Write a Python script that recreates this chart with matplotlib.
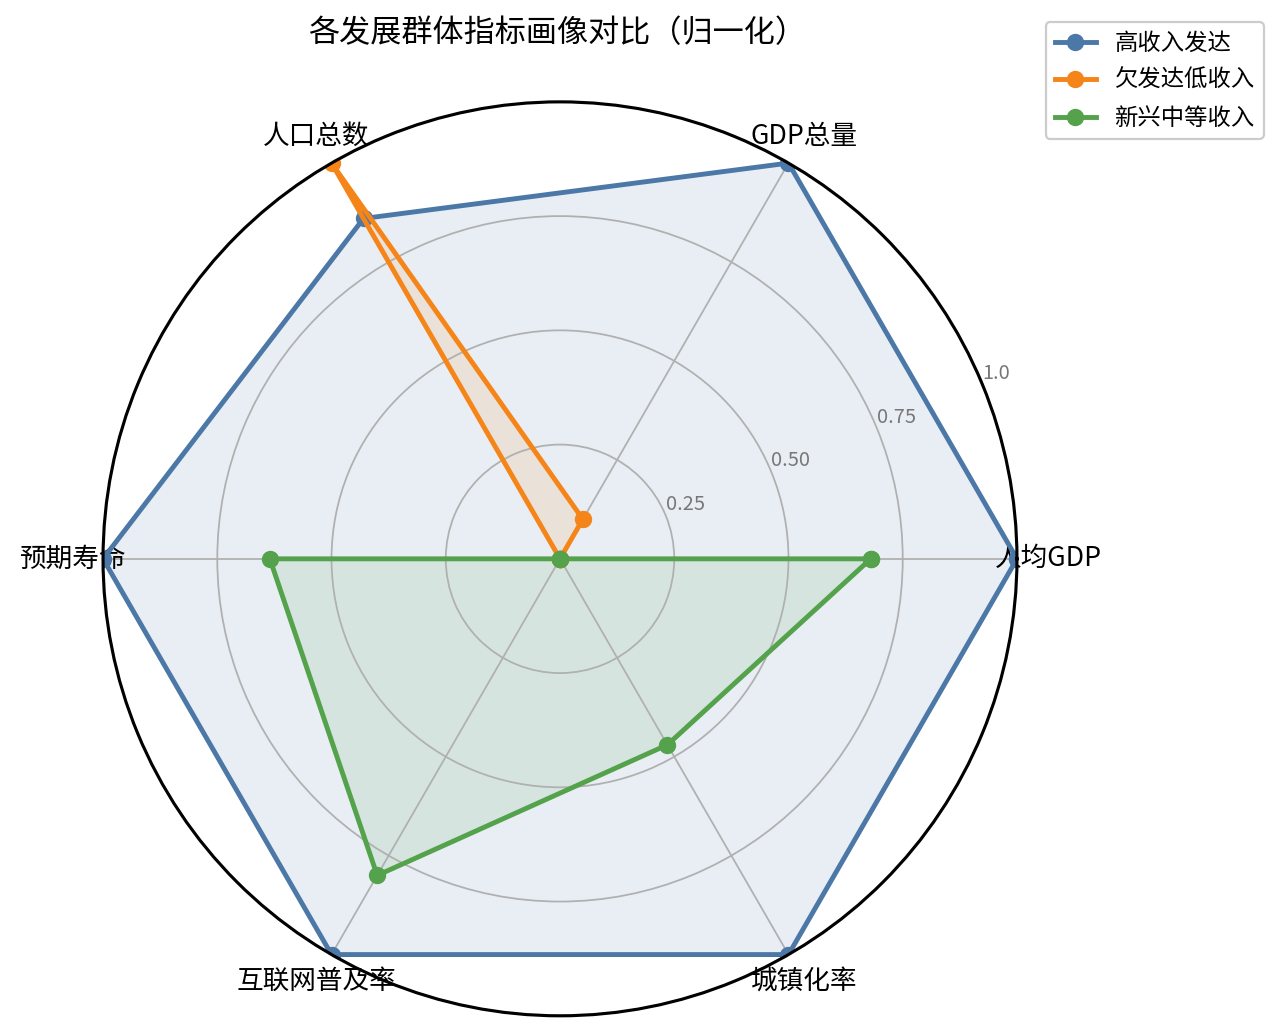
import numpy as np
import matplotlib
matplotlib.use("Agg")
import matplotlib.pyplot as plt

plt.rcParams['font.family'] = ['Noto Sans CJK SC', 'DejaVu Sans']

# 指标与各群体归一化数值
categories = ['人均GDP', 'GDP总量', '人口总数', '预期寿命', '互联网普及率', '城镇化率']
high_income = [1.0, 1.0, 0.86, 1.0, 1.0, 1.0]
low_income = [0.0, 0.10, 1.0, 0.0, 0.0, 0.0]
emerging = [0.68, 0.0, 0.0, 0.635, 0.80, 0.47]
series_names = ['高收入发达', '欠发达低收入', '新兴中等收入']
colors = ['#4c78a8', '#f58518', '#54a24b']

angles = np.linspace(0, 2 * np.pi, len(categories), endpoint=False).tolist()
angles += angles[:1]

fig = plt.figure(figsize=(8, 6.45), dpi=160)
ax = fig.add_axes([0.0805, 0.0155, 0.714, 0.886], polar=True)

for vals, name, c in zip([high_income, low_income, emerging], series_names, colors):
    v = vals + vals[:1]
    ax.plot(angles, v, color=c, linewidth=2.2, marker='o', markersize=6.8, label=name)
    ax.fill(angles, v, color=c, alpha=0.12)

ax.set_xticks(angles[:-1])
ax.set_xticklabels(categories, fontsize=12)
ax.set_ylim(0, 1.0)
ax.set_yticks([0.25, 0.5, 0.75, 1.0])
ax.set_yticklabels(['0.25', '0.50', '0.75', '1.0'], fontsize=9, color='#777777')
ax.set_rlabel_position(22.5)
ax.grid(color='#b0b0b0', linewidth=0.8)
ax.spines['polar'].set_color('black')
ax.spines['polar'].set_linewidth(1.4)

fig.text(0.435, 0.968, '各发展群体指标画像对比（归一化）', ha='center', va='center', fontsize=14)
fig.legend(loc='upper right', bbox_to_anchor=(0.993, 0.985), fontsize=10.5,
           framealpha=1, handlelength=1.75, borderaxespad=0.3, labelspacing=0.62)

fig.savefig('out.png', dpi=160)
